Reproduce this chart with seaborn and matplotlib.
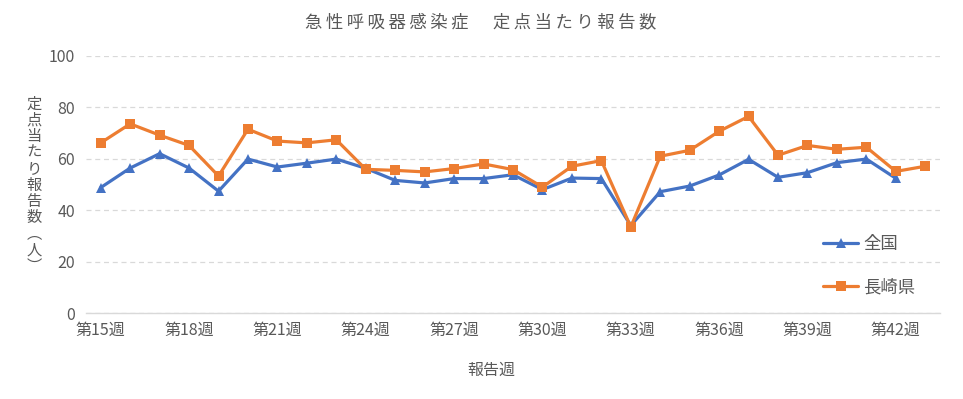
import matplotlib
matplotlib.use("Agg")
from matplotlib import pyplot as plt
import numpy as np
import pandas as pd
import seaborn as sns

weeks = list(range(15, 44))
zenkoku = [48.8, 56.4, 62.0, 56.4, 47.4, 59.9, 56.8, 58.3, 59.9, 56.3,
           51.6, 50.6, 52.3, 52.3, 53.8, 48.0, 52.5, 52.3, 34.0, 47.2,
           49.4, 53.7, 59.8, 52.8, 54.6, 58.5, 59.9, 52.4, np.nan]
nagasaki = [66.2, 73.6, 69.2, 65.2, 53.3, 71.5, 66.9, 66.2, 67.4, 55.9,
            55.5, 54.9, 56.2, 58.0, 55.8, 49.0, 57.1, 59.3, 33.5, 61.0,
            63.3, 70.7, 76.5, 61.4, 65.2, 63.7, 64.5, 55.1, 57.1]
series = ["全国", "長崎県"]
tick_weeks = list(range(15, 43, 3))
title = "急性呼吸器感染症　定点当たり報告数"
ylabel = "定点当たり報告数︵人︶"

df = pd.DataFrame({
    "週": weeks * 2,
    "報告数": zenkoku + nagasaki,
    "地域": [series[0]] * len(weeks) + [series[1]] * len(weeks),
})

sns.set_style("white")
plt.rcParams["font.family"] = ["Noto Sans CJK JP", "DejaVu Sans"]
gray = "#595959"

fig = plt.figure(figsize=(9.63, 3.99), dpi=100)
ax = fig.add_axes([86 / 963, 1 - 313 / 399, 854 / 963, 257 / 399])

sns.lineplot(data=df, x="週", y="報告数", hue="地域", style="地域",
             palette={"全国": "#4472C4", "長崎県": "#ED7D31"},
             markers={"全国": "^", "長崎県": "s"}, dashes=False,
             linewidth=2.3, markersize=7, markeredgewidth=0, ax=ax)

ax.set_xlim(14.5, 43.5)
ax.set_ylim(0, 100)
ax.set_yticks(range(0, 101, 20))
ax.set_xticks(tick_weeks)
ax.set_xticklabels([f"第{w}週" for w in tick_weeks])
ax.tick_params(axis="both", length=0, labelsize=11.5, labelcolor=gray)
ax.tick_params(axis="x", pad=6)
ax.tick_params(axis="y", pad=8)
ax.yaxis.grid(True, linestyle=(0, (4, 3)), color="#d9d9d9", linewidth=0.9)
for s in ["left", "right", "top"]:
    ax.spines[s].set_visible(False)
ax.spines["bottom"].set_color("#d9d9d9")
ax.spines["bottom"].set_linewidth(1)
ax.set_axisbelow(True)

ax.set_ylabel("")
ax.set_xlabel("")
fig.text(491 / 963, 1 - 370 / 399, "報告週", ha="center", va="center",
         color=gray, fontsize=11.5)
fig.text(34 / 963, 1 - 185 / 399, "\n".join(ylabel),
         ha="center", va="center", color=gray, fontsize=11, linespacing=0.94)

fig.text(481 / 963, 1 - 22 / 399, "\u2009".join(title),
         ha="center", va="center", color=gray, fontsize=12.5)

leg = ax.legend(loc="upper left", bbox_to_anchor=(0.845, 0.365), frameon=False,
                labelspacing=1.45, handlelength=2.0, handletextpad=0.3,
                fontsize=12.5)
for t in leg.get_texts():
    t.set_color(gray)

fig.savefig("out.png", dpi=100)
